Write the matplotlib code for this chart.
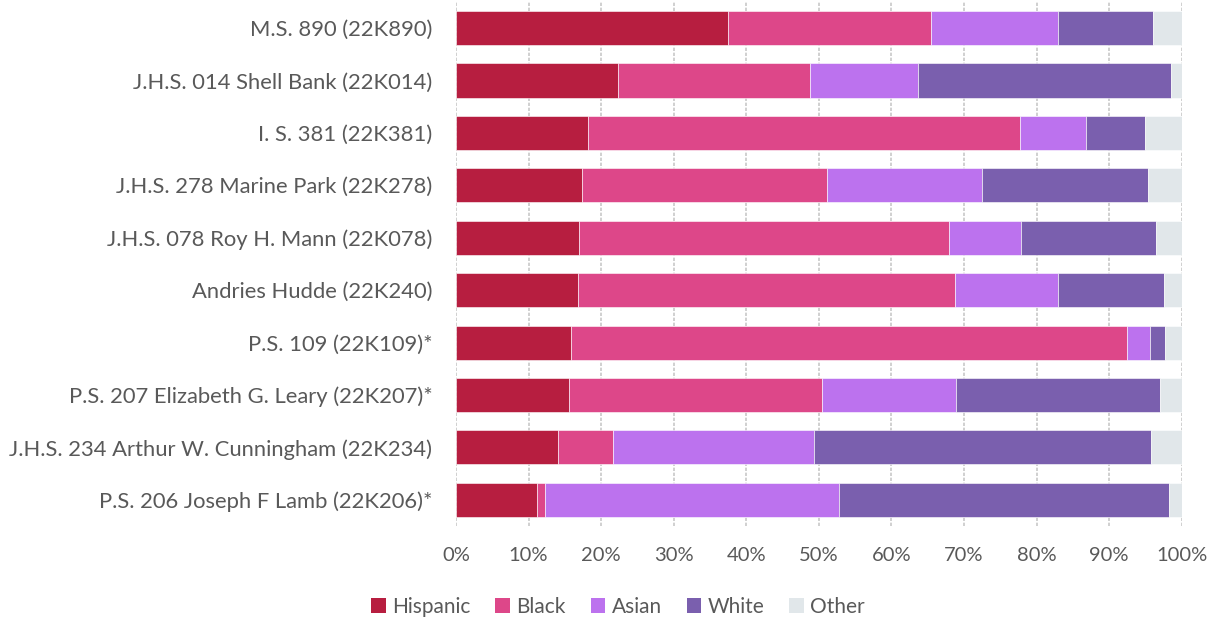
import matplotlib
matplotlib.use("Agg")
import matplotlib.pyplot as plt
from matplotlib.ticker import FuncFormatter
from matplotlib.patches import Patch

schools = [
    "M.S. 890 (22K890)",
    "J.H.S. 014 Shell Bank (22K014)",
    "I. S. 381 (22K381)",
    "J.H.S. 278 Marine Park (22K278)",
    "J.H.S. 078 Roy H. Mann (22K078)",
    "Andries Hudde (22K240)",
    "P.S. 109 (22K109)*",
    "P.S. 207 Elizabeth G. Leary (22K207)*",
    "J.H.S. 234 Arthur W. Cunningham (22K234)",
    "P.S. 206 Joseph F Lamb (22K206)*",
]
hispanic = [37.5, 22.3, 18.2, 17.4, 16.9, 16.8, 15.9, 15.6, 14.0, 11.1]
black    = [27.9, 26.5, 59.5, 33.7, 51.1, 52.0, 76.5, 34.9,  7.6,  1.1]
asian    = [17.6, 14.8,  9.1, 21.4,  9.9, 14.1,  3.2, 18.4, 27.7, 40.6]
white    = [13.1, 35.0,  8.2, 22.8, 18.6, 14.6,  2.1, 28.1, 46.5, 45.4]
other    = [ 3.9,  1.4,  5.0,  4.7,  3.5,  2.5,  2.3,  3.0,  4.2,  1.8]

series_names = ["Hispanic", "Black", "Asian", "White", "Other"]
series = [hispanic, black, asian, white, other]
colors = ["#B71E40", "#DD4789", "#BC72EE", "#7A5FAE", "#E1E7EA"]

plt.rcParams['font.family'] = ['Lato', 'DejaVu Sans']
text_color = "#595959"

fig = plt.figure(figsize=(12.07, 6.23), dpi=100)
ax = fig.add_axes([0.3778, 0.1557, 0.6012, 0.8413])

ypos = list(range(len(schools)))
left = [0.0] * len(schools)
for name, vals, c in zip(series_names, series, colors):
    ax.barh(ypos, vals, left=left, height=0.65, color=c, label=name,
            edgecolor="white", linewidth=0.4, zorder=3)
    left = [l + v for l, v in zip(left, vals)]

ax.set_xlim(0, 100)
ax.set_ylim(len(schools) - 0.5, -0.5)
ax.set_yticks(ypos)
ax.set_yticklabels(schools, fontsize=15.8, color=text_color)
ax.set_xticks(range(0, 101, 10))
ax.xaxis.set_major_formatter(FuncFormatter(lambda v, p: f"{int(v)}%"))
ax.tick_params(axis='x', labelsize=14.5, colors=text_color, length=0, pad=15)
ax.tick_params(axis='y', length=0, pad=17)
for s in ax.spines.values():
    s.set_visible(False)
ax.grid(axis='x', color="#C8C8C8", linestyle=(0, (2, 1)), linewidth=1.2, zorder=0)
ax.set_axisbelow(True)

handles = [Patch(facecolor=c, edgecolor='none', label=n) for n, c in zip(series_names, colors)]
fig.legend(handles=handles, loc='center', bbox_to_anchor=(0.512, 0.026), ncol=5,
           frameon=False, fontsize=15, handlelength=0.7, handleheight=0.7,
           handletextpad=0.3, columnspacing=1.2, labelcolor=text_color)

fig.savefig("out.png", dpi=100)
